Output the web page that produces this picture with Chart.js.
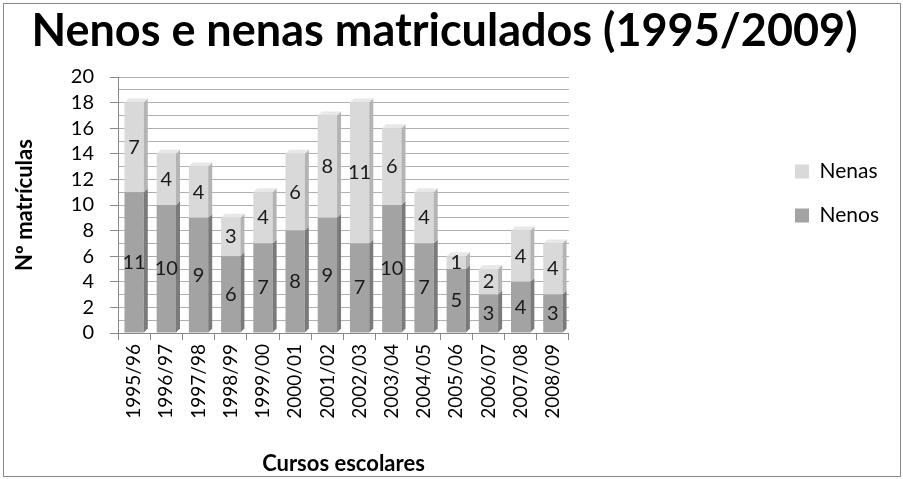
<!DOCTYPE html>
<html><head><meta charset="utf-8">
<script src="https://cdn.jsdelivr.net/npm/chart.js@4.4.1/dist/chart.umd.min.js"></script>
<style>html,body{margin:0;padding:0;background:#fff}#wrap{width:903px;height:479px}</style>
</head><body><div id="wrap"><canvas id="c" width="903" height="479"></canvas></div>
<script>
const categories = ["1995/96","1996/97","1997/98","1998/99","1999/00","2000/01","2001/02","2002/03","2003/04","2004/05","2005/06","2006/07","2007/08","2008/09"];
const nenos = [11,10,9,6,7,8,9,7,10,7,5,3,4,3];
const nenas = [7,4,4,3,4,6,8,11,6,4,1,2,4,4];
const titleText = "Nenos e nenas matriculados (1995/2009)";
const xTitle = "Cursos escolares";
const yTitle = "Nº matrículas";
const FONT = "Lato, 'Open Sans', sans-serif";

const sideColors = ["#7a7a7a", "#b4b4b4"];
const topColors = ["#b8b8b8", "#e8e8e8"];

const bars3d = {
  id: 'bars3d',
  afterDatasetsDraw(chart) {
    const ctx = chart.ctx; const d = 4;
    chart.data.datasets.forEach((ds, di) => {
      const meta = chart.getDatasetMeta(di);
      meta.data.forEach((el) => {
        const w = el.width, r = el.x + w / 2, l = el.x - w / 2;
        const top = Math.min(el.y, el.base), bot = Math.max(el.y, el.base);
        ctx.save();
        ctx.fillStyle = sideColors[di];
        ctx.beginPath();
        ctx.moveTo(r, top); ctx.lineTo(r + d, top - d); ctx.lineTo(r + d, bot - d); ctx.lineTo(r, bot); ctx.closePath(); ctx.fill();
        if (di === chart.data.datasets.length - 1) {
          ctx.fillStyle = topColors[di];
          ctx.beginPath();
          ctx.moveTo(l, top); ctx.lineTo(l + d, top - d); ctx.lineTo(r + d, top - d); ctx.lineTo(r, top); ctx.closePath(); ctx.fill();
        }
        ctx.restore();
      });
    });
    ctx.save();
    ctx.font = "20px " + FONT; ctx.fillStyle = "#1a1a1a"; ctx.textAlign = "center"; ctx.textBaseline = "middle";
    chart.data.datasets.forEach((ds, di) => {
      chart.getDatasetMeta(di).data.forEach((el, i) => {
        ctx.fillText(String(ds.data[i]), el.x, (el.y + el.base) / 2);
      });
    });
    ctx.restore();
  },
  afterDraw(chart) {
    const ctx = chart.ctx; ctx.save(); ctx.strokeStyle = "#8a8a8a"; ctx.lineWidth = 1;
    ctx.strokeRect(3.5, 3.5, chart.width - 6, chart.height - 6); ctx.restore();
  }
};

new Chart(document.getElementById('c'), {
  type: 'bar',
  data: {
    labels: categories,
    datasets: [
      { label: 'Nenos', data: nenos, backgroundColor: '#a3a3a3', stack: 's' },
      { label: 'Nenas', data: nenas, backgroundColor: '#d9d9d9', stack: 's' }
    ]
  },
  options: {
    responsive: false, animation: false,
    layout: { padding: { left: 0, right: 14, top: 0, bottom: 0 } },
    datasets: { bar: { categoryPercentage: 1, barPercentage: 0.6 } },
    plugins: {
      title: { display: true, text: titleText, color: '#000', font: { family: FONT, size: 45, weight: 'bold' }, padding: { top: 4, bottom: 19 } },
      legend: { position: 'right', reverse: true, align: 'start',
        title: { display: true, text: ' ', font: { size: 10 }, padding: { top: 0, bottom: 126 } },
        labels: { boxWidth: 14, boxHeight: 14, padding: 23, color: '#000', font: { family: FONT, size: 21 } } },
      tooltip: { enabled: false }
    },
    scales: {
      x: {
        stacked: true,
        grid: { drawOnChartArea: false, drawTicks: true, tickLength: 7, color: '#888', offset: true },
        border: { color: '#888' },
        ticks: { color: '#000', font: { family: FONT, size: 19 }, minRotation: 90, maxRotation: 90, padding: 4, autoSkip: false },
        title: { display: true, text: xTitle, color: '#000', font: { family: FONT, size: 22, weight: 'bold' }, padding: { top: 4, bottom: 2 } },
        afterFit(s) { s.height = 146; }
      },
      y: {
        stacked: true, min: 0, max: 20,
        ticks: { stepSize: 1, autoSkip: false, color: '#000', font: { family: FONT, size: 20 }, padding: 16,
          callback: (v) => (v % 2 === 0 ? v : '') },
        grid: { color: '#b0b0b0', tickLength: 8, tickColor: (c) => (c.tick && c.tick.value % 2 === 0 ? '#888' : 'rgba(0,0,0,0)') },
        border: { color: '#888' },
        title: { display: true, text: yTitle, color: '#000', font: { family: FONT, size: 22, weight: 'bold' }, padding: { top: 12, bottom: 4 } },
        afterFit(s) { s.width = 118; }
      },
      yR: {
        position: 'right', display: true,
        ticks: { display: false }, grid: { display: false }, border: { display: false },
        afterFit(s) { s.width = 203; }
      }
    }
  },
  plugins: [bars3d]
});
</script></body></html>
